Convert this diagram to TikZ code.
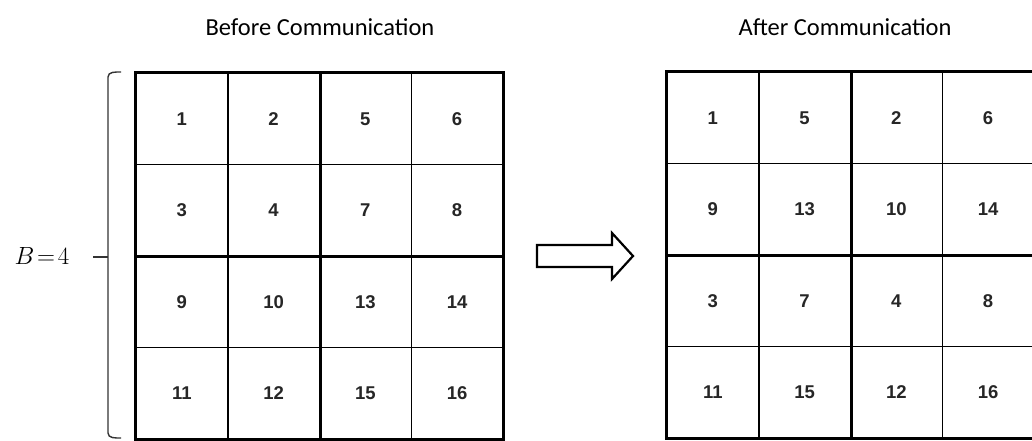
\documentclass[tikz,border=0pt]{standalone}
\usepackage{fontspec}
\newfontfamily\titlefont{Carlito}
\newfontfamily\numfont{Liberation Sans}
\begin{document}
\begin{tikzpicture}[x=1pt,y=-1pt,
  cell/.style={draw=black, line width=1.5pt, minimum width=91.75pt, minimum height=91.5pt, inner sep=0pt, font=\numfont\bfseries\fontsize{18.5}{20}\selectfont, text=black!85},
  thickline/.style={draw=black, line width=3.4pt},
  titletext/.style={font=\titlefont\fontsize{24.5}{28}\selectfont, text=black},
  blockarrow/.style={draw=black, line width=2.2pt, fill=white, line join=miter}]
\useasboundingbox (0,0) rectangle (1032,441);
% left grid
\foreach \r/\vals [count=\i] in {1/{1,2,5,6},2/{3,4,7,8},3/{9,10,13,14},4/{11,12,15,16}}{
  \foreach \v [count=\j] in \vals {
    \node[cell] (L\i\j) at ({136+91.75*(\j-0.5)},{73+91.5*(\i-0.5)}) {\v};
  }
}
\foreach \r/\vals [count=\i] in {1/{1,5,2,6},2/{9,13,10,14},3/{3,7,4,8},4/{11,15,12,16}}{
  \foreach \v [count=\j] in \vals {
    \node[cell] (R\i\j) at ({667+91.75*(\j-0.5)},{72+91.5*(\i-0.5)}) {\v};
  }
}
% thick lines
\draw[thickline] (L11.north west) rectangle (L44.south east);
\draw[thickline] (L12.north east) -- (L42.south east);
\draw[thickline] (L21.south west) -- (L24.south east);
\draw[thickline] (R11.north west) rectangle (R44.south east);
\draw[thickline] (R12.north east) -- (R42.south east);
\draw[thickline] (R21.south west) -- (R24.south east);
% titles
\node[titletext] (tb) at (320,27) {Before Communication};
\node[titletext] (ta) at (845,27) {After Communication};
% brace
\coordinate (bt) at (121,72);
\coordinate (bb) at (121,438);
\draw[line width=1.4pt, black!80] (bt) to[out=180,in=90] (108,77) -- (108,433) to[out=-90,in=180] (bb);
\draw[line width=1.4pt, black!80] (93,257) -- (108,257);
\node[font=\fontsize{25}{28}\selectfont] (blab) at (42,256) {$B\!=\!4$};
% arrow
\draw[blockarrow] (537,245) -- (612,245) -- (612,233) -- (633,256) -- (612,279) -- (612,267) -- (537,267) -- cycle;
\end{tikzpicture}
\end{document}
